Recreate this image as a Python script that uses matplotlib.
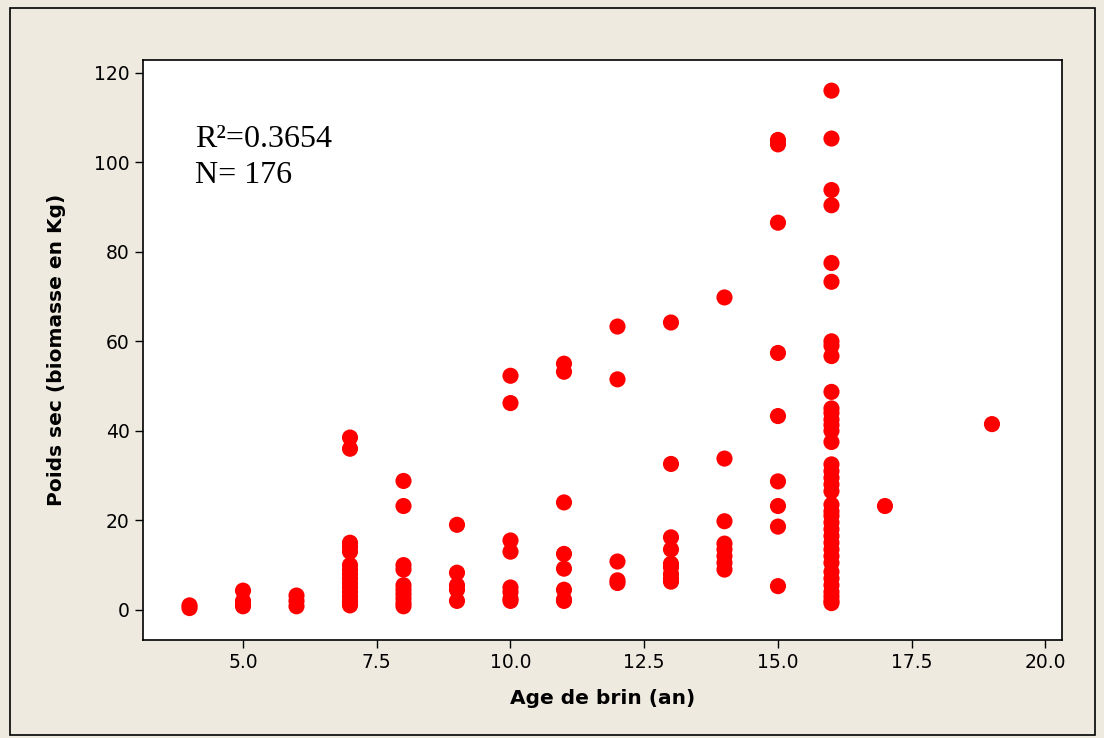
import matplotlib.pyplot as plt
from matplotlib.patches import Rectangle

# age (years) -> dry weight (kg)
ages = [4, 5, 6, 7, 8, 9, 10, 11, 12, 13, 14, 15, 16, 17, 19]
weights = [
    [1.0, 0.4],
    [4.3, 2.0, 1.2, 0.8],
    [3.2, 2.0, 0.8],
    [38.5, 36.0, 15.0, 14.0, 13.0, 10.0, 9.0, 8.0, 7.0, 6.0, 5.0, 4.0, 3.0, 2.0, 1.5, 1.0],
    [28.8, 23.2, 10.0, 9.0, 5.5, 4.5, 3.5, 2.5, 1.5, 0.8],
    [19.0, 8.3, 5.5, 4.5, 2.0],
    [52.3, 46.2, 15.5, 13.0, 5.0, 4.0, 2.5, 2.0],
    [55.0, 53.2, 24.0, 12.5, 9.2, 4.5, 2.3, 2.0],
    [63.3, 51.5, 10.8, 6.6, 6.0],
    [64.2, 32.6, 16.2, 13.5, 10.3, 9.5, 8.0, 7.0, 6.3],
    [69.8, 33.8, 19.8, 14.8, 13.5, 12.0, 10.5, 9.0],
    [105.0, 104.0, 86.5, 57.4, 43.3, 28.7, 23.2, 18.6, 5.3],
    [116.0, 105.3, 93.8, 90.4, 77.5, 73.3, 60.0, 59.0, 56.7, 48.7, 45.0, 44.0,
     42.5, 41.3, 40.0, 37.5, 32.5, 31.0, 29.5, 28.0, 26.5, 23.5, 22.0, 21.0,
     19.5, 18.0, 16.5, 15.0, 13.5, 12.0, 10.5, 8.5, 7.0, 5.5, 4.0, 3.0, 2.0, 1.5],
    [23.2],
    [41.5],
]
xticks = [5.0, 7.5, 10.0, 12.5, 15.0, 17.5, 20.0]
yticks = [0, 20, 40, 60, 80, 100, 120]

xs = []
ys = []
for a, w in zip(ages, weights):
    xs += [a] * len(w)
    ys += w

fig = plt.figure(figsize=(11.04, 7.38), dpi=100)
fig.patch.set_facecolor('#EEEAE0')
fig.patches.append(Rectangle((0.009, 0.004), 0.983, 0.985, transform=fig.transFigure,
                             fill=False, edgecolor='black', linewidth=1.2))

ax = fig.add_axes([0.1295, 0.133, 0.8325, 0.786])
ax.set_facecolor('white')
ax.scatter(xs, ys, s=135, color='#FF0000', edgecolors='none', zorder=3)

ax.set_xlim(3.13, 20.31)
ax.set_ylim(-6.7, 122.9)
ax.set_xticks(xticks)
ax.set_xticklabels(['%.1f' % t for t in xticks])
ax.set_yticks(yticks)
ax.tick_params(labelsize=13.5, length=6, width=1, direction='out', colors='black')
for sp in ax.spines.values():
    sp.set_linewidth(1.2)

ax.set_xlabel('Age de brin (an)', fontsize=14.5, fontweight='bold', labelpad=12)
ax.set_ylabel('Poids sec (biomasse en Kg)', fontsize=14.5, fontweight='bold', labelpad=20)

ax.text(4.1, 108.3, 'R²=0.3654\nN= 176', fontsize=23, family='Liberation Serif',
        va='top', ha='left', linespacing=1.3)

fig.savefig('out.png', dpi=100, facecolor=fig.get_facecolor())
